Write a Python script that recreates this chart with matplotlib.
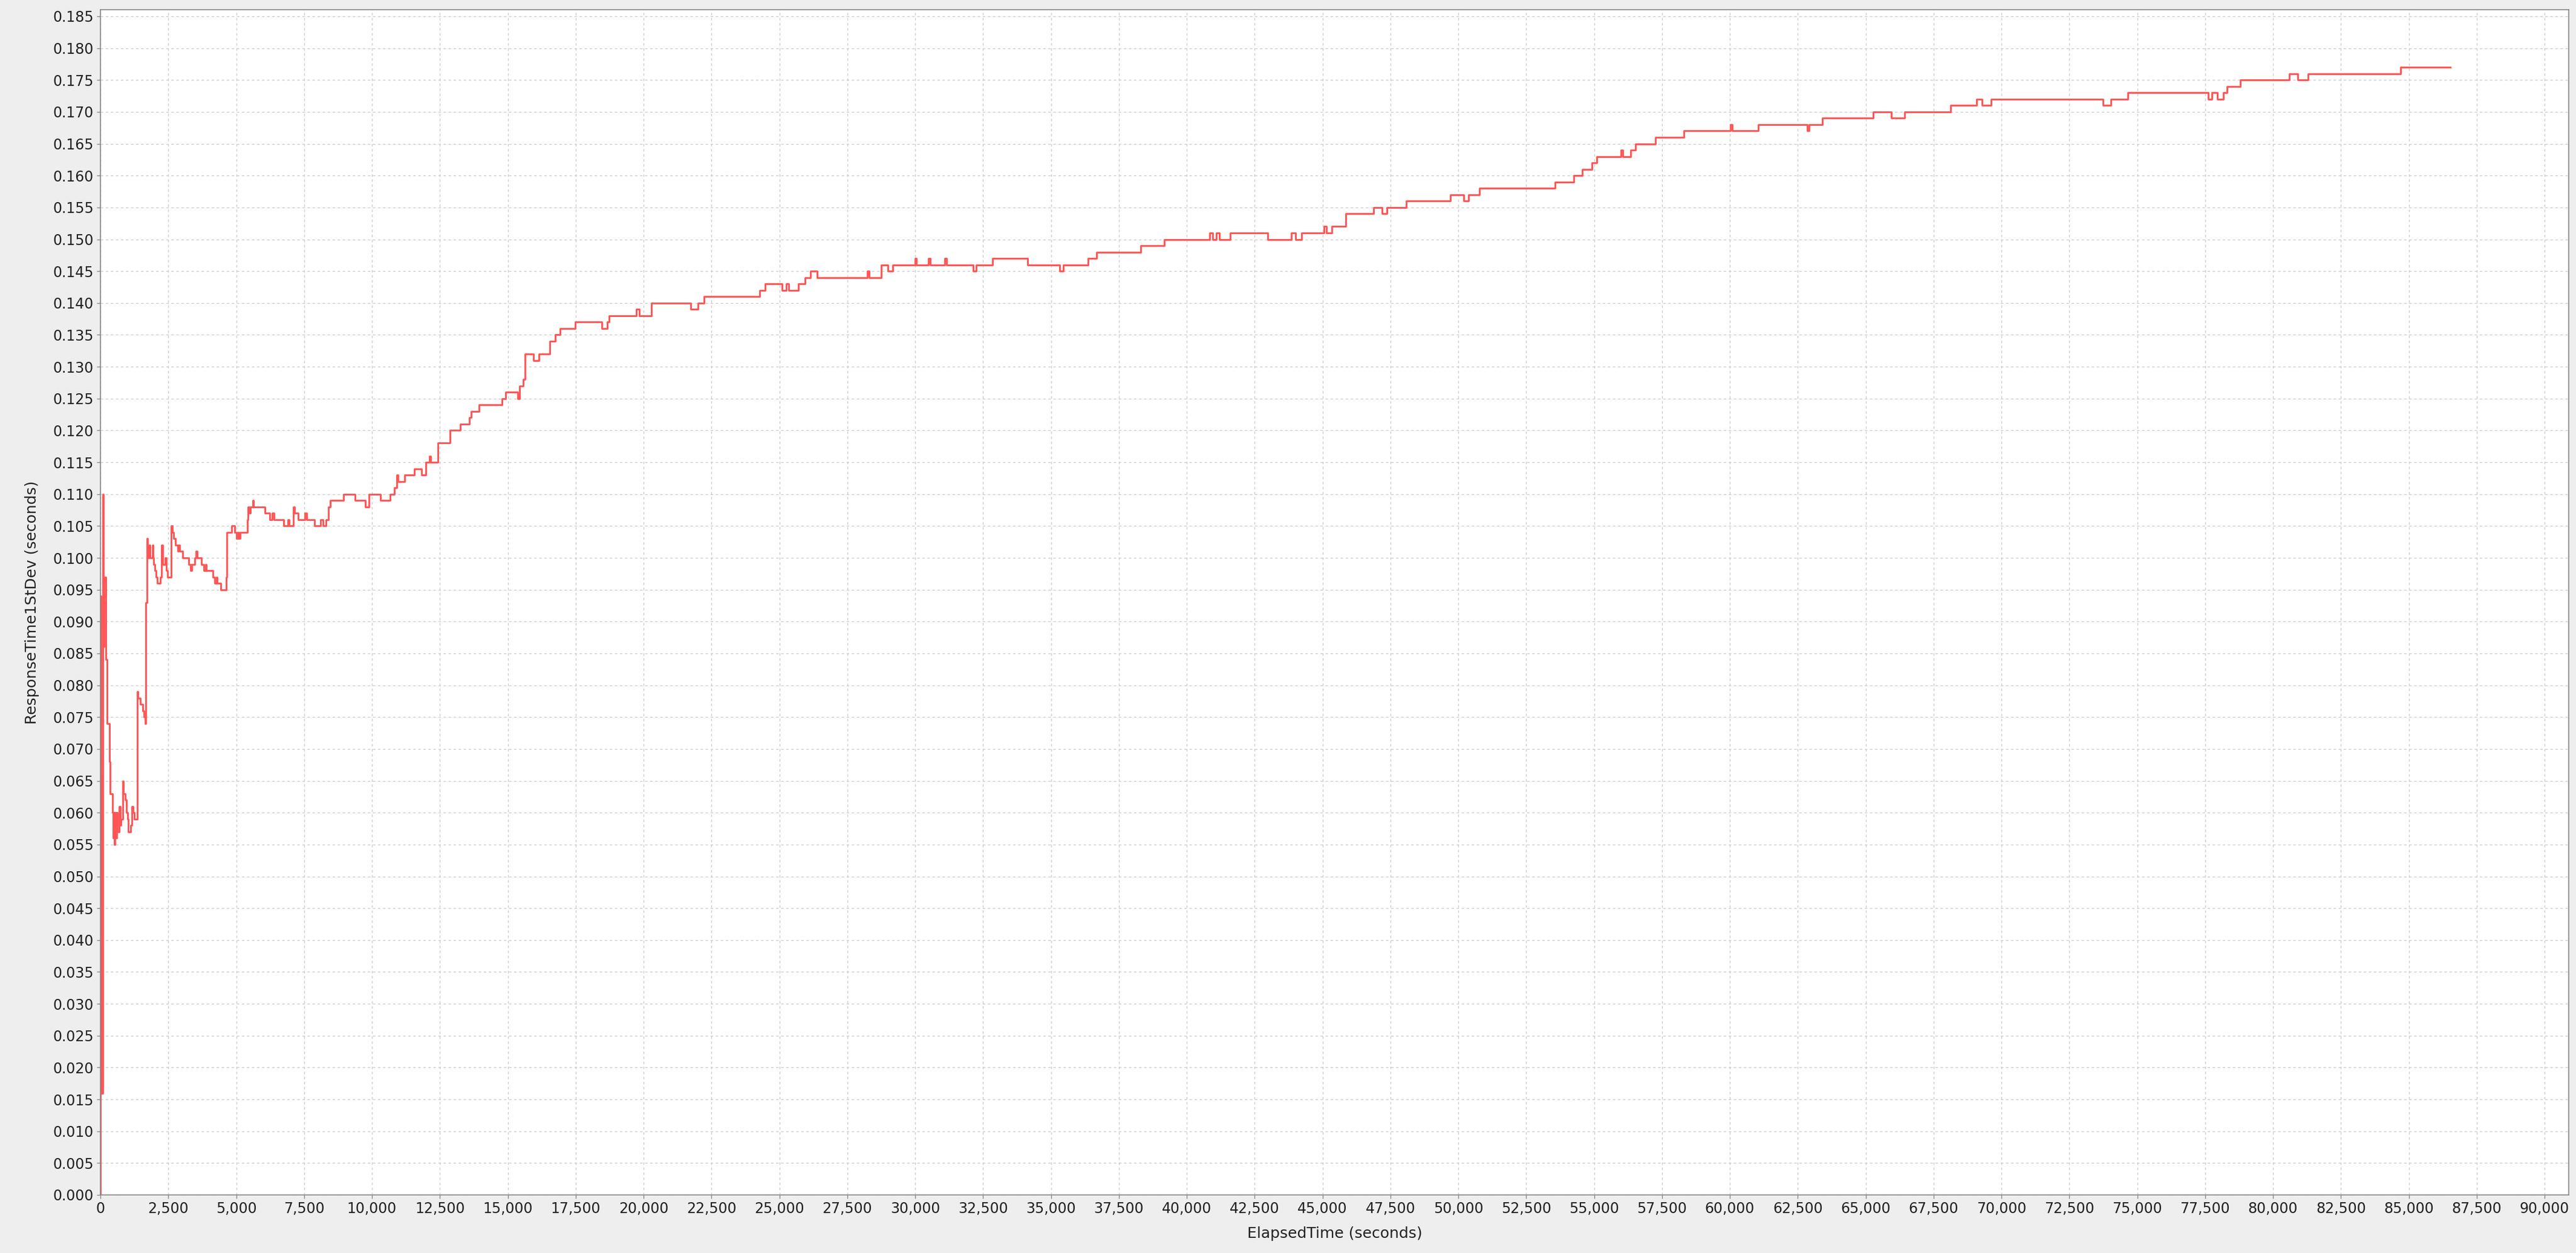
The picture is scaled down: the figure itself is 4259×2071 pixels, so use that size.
import matplotlib
matplotlib.use('Agg')
import matplotlib.pyplot as plt
from matplotlib.ticker import MultipleLocator, FuncFormatter

# elapsed time (s) at which the running std dev changes, and the new value (s)
elapsed = [
    0, 8, 16, 24, 32, 42, 52, 64, 76, 88, 99, 118, 140, 198, 240, 323, 367, 441,
    478, 500, 520, 545, 570, 600, 627, 701, 730, 760, 813, 850, 902, 961, 998,
    1035, 1124, 1169, 1206, 1243, 1354, 1391, 1465, 1554, 1614, 1643, 1665,
    1706, 1736, 1786, 1835, 1905, 1934, 1970, 2004, 2050, 2103, 2202, 2252,
    2301, 2381, 2430, 2480, 2599, 2659, 2698, 2758, 2847, 2880, 2926, 3026,
    3254, 3323, 3373, 3472, 3522, 3571, 3720, 3800, 3869, 3900, 4147, 4200,
    4266, 4300, 4434, 4633, 4662, 4831, 4940, 5000, 5050, 5109, 5139, 5406,
    5436, 5480, 5530, 5615, 5635, 6051, 6230, 6320, 6400, 6746, 6900, 6950,
    7103, 7142, 7291, 7520, 7600, 7886, 8115, 8200, 8300, 8400, 8462, 8959,
    9369, 9750, 9881, 10316, 10664, 10813, 10912, 10962, 11210, 11557, 11835,
    11983, 12122, 12152, 12430, 12866, 13250, 13580, 13644, 13951, 14796,
    14924, 15359, 15436, 15564, 15641, 15948, 16153, 16537, 16742, 16921,
    17484, 18457, 18662, 18738, 19737, 19839, 20300, 21734, 22000, 22220,
    24268, 24473, 25100, 25250, 25350, 25700, 25950, 26137, 26393, 28250,
    28300, 28748, 29000, 29183, 30000, 30050, 30500, 30550, 31100, 31150,
    32127, 32250, 32844, 34150, 35327, 35450, 36377, 36684, 38297, 39167,
    40857, 40950, 41100, 41200, 41599, 42982, 43852, 44000, 44236, 45055,
    45150, 45337, 45855, 46880, 47203, 47365, 48093, 49712, 50197, 50386,
    50790, 53568, 54243, 54566, 54917, 55105, 55996, 56050, 56346, 56535,
    57263, 58315, 60014, 60095, 61039, 62846, 62927, 63412, 65273, 65947,
    66433, 68132, 69076, 69292, 69615, 73742, 74039, 74659, 77626, 77750,
    77950, 78166, 78300, 78786, 80593, 80916, 81294, 84691, 86525,
]
stdev = [
    0.000, 0.094, 0.035, 0.072, 0.020, 0.066, 0.016, 0.045, 0.016, 0.062, 0.110,
    0.086, 0.097, 0.084, 0.074, 0.068, 0.063, 0.060, 0.056, 0.060, 0.055, 0.060,
    0.056, 0.060, 0.057, 0.061, 0.058, 0.059, 0.065, 0.063, 0.062, 0.060, 0.059,
    0.057, 0.058, 0.061, 0.060, 0.059, 0.079, 0.078, 0.077, 0.076, 0.075, 0.074,
    0.093, 0.103, 0.100, 0.102, 0.100, 0.102, 0.100, 0.099, 0.098, 0.097, 0.096,
    0.097, 0.102, 0.099, 0.100, 0.098, 0.097, 0.105, 0.104, 0.103, 0.102, 0.101,
    0.102, 0.101, 0.100, 0.099, 0.098, 0.099, 0.100, 0.101, 0.100, 0.099, 0.098,
    0.099, 0.098, 0.097, 0.096, 0.097, 0.096, 0.095, 0.097, 0.104, 0.105, 0.104,
    0.103, 0.104, 0.103, 0.104, 0.106, 0.108, 0.107, 0.108, 0.109, 0.108, 0.107,
    0.106, 0.107, 0.106, 0.105, 0.106, 0.105, 0.108, 0.107, 0.106, 0.107, 0.106,
    0.105, 0.106, 0.105, 0.106, 0.108, 0.109, 0.110, 0.109, 0.108, 0.110, 0.109,
    0.110, 0.111, 0.113, 0.112, 0.113, 0.114, 0.113, 0.115, 0.116, 0.115, 0.118,
    0.120, 0.121, 0.122, 0.123, 0.124, 0.125, 0.126, 0.125, 0.127, 0.128, 0.132,
    0.131, 0.132, 0.134, 0.135, 0.136, 0.137, 0.136, 0.137, 0.138, 0.139, 0.138,
    0.140, 0.139, 0.140, 0.141, 0.142, 0.143, 0.142, 0.143, 0.142, 0.143, 0.144,
    0.145, 0.144, 0.145, 0.144, 0.146, 0.145, 0.146, 0.147, 0.146, 0.147, 0.146,
    0.147, 0.146, 0.145, 0.146, 0.147, 0.146, 0.145, 0.146, 0.147, 0.148, 0.149,
    0.150, 0.151, 0.150, 0.151, 0.150, 0.151, 0.150, 0.151, 0.150, 0.151, 0.152,
    0.151, 0.152, 0.154, 0.155, 0.154, 0.155, 0.156, 0.157, 0.156, 0.157, 0.158,
    0.159, 0.160, 0.161, 0.162, 0.163, 0.164, 0.163, 0.164, 0.165, 0.166, 0.167,
    0.168, 0.167, 0.168, 0.167, 0.168, 0.169, 0.170, 0.169, 0.170, 0.171, 0.172,
    0.171, 0.172, 0.171, 0.172, 0.173, 0.172, 0.173, 0.172, 0.173, 0.174, 0.175,
    0.176, 0.175, 0.176, 0.177, 0.177,
]

fontsize = 17
bg = '#eeeeee'

fig = plt.figure(figsize=(42.59, 20.71), dpi=100, facecolor=bg)
ax = fig.add_axes([166 / 4259, 1 - 1975 / 2071, (4247 - 166) / 4259, (1975 - 16) / 2071])
ax.set_facecolor('white')

ax.plot(elapsed, stdev, drawstyle='steps-post', color='#ff5555', lw=2.1)

ax.set_xlim(0, 90890)
ax.set_ylim(0, 0.18604)
ax.xaxis.set_major_locator(MultipleLocator(2500))
ax.yaxis.set_major_locator(MultipleLocator(0.005))
ax.xaxis.set_major_formatter(FuncFormatter(lambda v, p: '{:,}'.format(int(round(v)))))
ax.yaxis.set_major_formatter(FuncFormatter(lambda v, p: '{:.3f}'.format(v)))

ax.grid(True, color='#cccccc', linestyle=(0, (3, 3)), lw=1.0)
ax.set_axisbelow(True)
for s in ax.spines.values():
    s.set_color('#888888')
    s.set_linewidth(1.2)
ax.tick_params(axis='both', length=4, width=1, color='#888888',
               labelsize=fontsize, labelcolor='#222222', pad=4)

ax.set_xlabel('ElapsedTime (seconds)', fontsize=fontsize + 1, color='#222222', labelpad=12)
ax.set_ylabel('ResponseTime1StDev (seconds)', fontsize=fontsize + 1, color='#222222', labelpad=16)

plt.savefig('out.png', dpi=100, facecolor=bg)
